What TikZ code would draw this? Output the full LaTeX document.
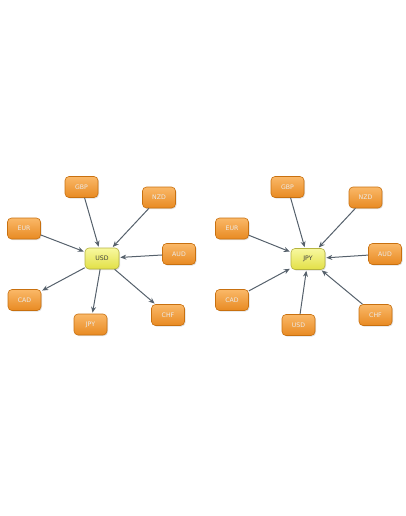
\documentclass[tikz,border=0pt]{standalone}
\usepackage{fontspec}
\setsansfont{DejaVu Sans}
\usetikzlibrary{shadows,arrows.meta}
\definecolor{boxline}{HTML}{C8700F}
\definecolor{boxtop}{HTML}{FAB868}
\definecolor{boxbot}{HTML}{E88A22}
\definecolor{hubline}{HTML}{B5B340}
\definecolor{hubtop}{HTML}{F8F8A0}
\definecolor{hubbot}{HTML}{E2E046}
\definecolor{link}{HTML}{56616C}
\tikzset{x=1pt, y=-1pt,
  cur/.style={draw=boxline, line width=0.6pt, rounded corners=4pt, top color=boxtop, bottom color=boxbot,
    minimum width=33pt, minimum height=21pt, inner sep=0pt, font=\sffamily\fontsize{6.2}{7}\selectfont,
    text=white!92!black, drop shadow={shadow xshift=1pt, shadow yshift=-1pt, opacity=0.25}},
  hub/.style={cur, draw=hubline, top color=hubtop, bottom color=hubbot, minimum width=34pt, text=black!75},
  link/.style={draw=link, line width=1pt, -{Stealth[length=6pt,width=5pt]}, shorten >=1pt}}

\begin{document}
\begin{tikzpicture}
				\useasboundingbox (0,0) rectangle (406,516);

				% USD in the middle
				\node[hub] (USD1) at (102,258.5) {USD};
				\node[cur] (GBP1) at (81.5,187) {GBP};
				\node[cur] (NZD1) at (159,197.5) {NZD};
				\node[cur] (EUR1) at (24,228.5) {EUR};
				\node[cur] (AUD1) at (179,254) {AUD};
				\node[cur] (CAD1) at (24.5,300) {CAD};
				\node[cur] (JPY1) at (90.5,324.5) {JPY};
				\node[cur] (CHF1) at (168,315) {CHF};

				\path[link]
				(GBP1) edge (USD1)
				(NZD1) edge (USD1)
				(EUR1) edge (USD1)
				(AUD1) edge (USD1)
				(USD1) edge (CAD1)
				(USD1) edge (JPY1)
				(USD1) edge (CHF1)
				;

				% JPY in the middle
				\node[hub] (JPY2) at (308,259) {JPY};
				\node[cur] (GBP2) at (287.5,187) {GBP};
				\node[cur] (NZD2) at (365.5,197.5) {NZD};
				\node[cur] (EUR2) at (232,228.5) {EUR};
				\node[cur] (AUD2) at (385,254) {AUD};
				\node[cur] (CAD2) at (232,300) {CAD};
				\node[cur] (USD2) at (298.5,325) {USD};
				\node[cur] (CHF2) at (375.5,315) {CHF};

				\path[link]
				(GBP2) edge (JPY2)
				(NZD2) edge (JPY2)
				(EUR2) edge (JPY2)
				(AUD2) edge (JPY2)
				(CAD2) edge (JPY2)
				(USD2) edge (JPY2)
				(CHF2) edge (JPY2)
				;

			\end{tikzpicture}
\end{document}
